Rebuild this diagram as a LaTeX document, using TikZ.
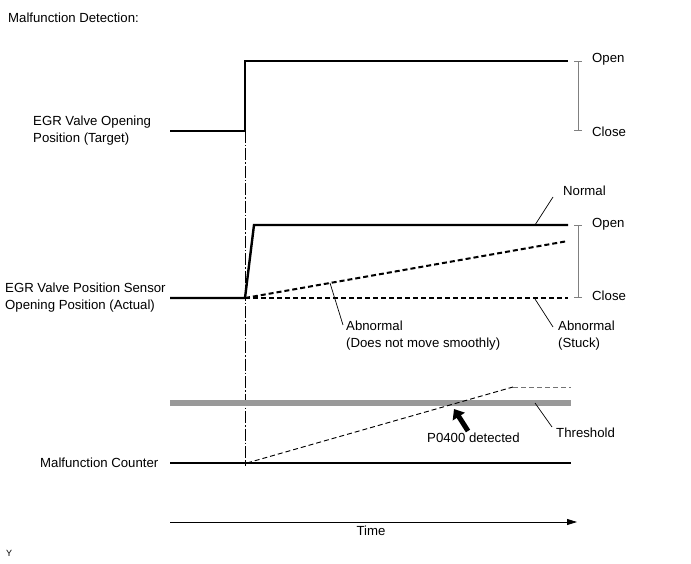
\documentclass[tikz,border=0pt]{standalone}
\usepackage{fontspec}
\setmainfont{Liberation Sans}
\usetikzlibrary{arrows.meta}
\begin{document}
\begin{tikzpicture}[x=1pt,y=-1pt,
  every node/.style={font=\fontsize{13.2}{17}\selectfont, inner sep=0pt},
  lbl/.style={anchor=west, align=left},
  sig/.style={line width=2.4pt, line join=miter},
  absig/.style={line width=2pt, dash pattern=on 5pt off 3pt},
  cnt/.style={line width=0.9pt, dash pattern=on 5pt off 3pt},
  brk/.style={draw=gray, line width=0.8pt, {Bar[width=8pt]}-{Bar[width=8pt]}},
  leader/.style={line width=0.7pt},
  dashdot/.style={line width=0.9pt, dash pattern=on 12pt off 2pt on 1.5pt off 2pt}]
\path[use as bounding box] (0,0) rectangle (691,564);

% title
\node[lbl] (title) at (8,18) {Malfunction Detection:};

% ---- Target panel
\node[lbl] (tlab) at (33,131) {EGR Valve Opening\\Position (Target)};
\coordinate (t0) at (170,131);
\coordinate (t1) at (245,131);
\coordinate (t2) at (245,61);
\coordinate (t3) at (568,61);
\draw[sig] (t0) -- (t1) -- (t2) -- (t3);
\coordinate (b1t) at (578,61);
\coordinate (b1b) at (578,131);
\draw[brk] (b1t) -- (b1b);
\node[lbl] (open1) at (592,59) {Open};
\node[lbl] (close1) at (592,132) {Close};

% start line
\coordinate (v0) at (245,61);
\coordinate (v1) at (245,466);
\draw[dashdot] (v0) -- (v1);

% ---- Actual panel
\node[lbl] (alab) at (5,298) {EGR Valve Position Sensor\\Opening Position (Actual)};
\coordinate (a0) at (170,298);
\coordinate (a1) at (245,298);
\coordinate (a2) at (254,225);
\coordinate (a3) at (568,225);
\coordinate (s1) at (568,241);
\coordinate (k1) at (568,298);
\draw[absig] (a1) -- (s1);
\draw[absig] (a1) -- (k1);
\draw[sig] (a0) -- (a1) -- (a2) -- (a3);
\coordinate (b2t) at (578,225);
\coordinate (b2b) at (578,298);
\draw[brk] (b2t) -- (b2b);
\node[lbl] (open2) at (592,224) {Open};
\node[lbl] (close2) at (592,296) {Close};

\node[lbl] (normal) at (563,191) {Normal};
\coordinate (nl) at (535,225);
\draw[leader] (nl) -- (553,197);

\node[lbl] (stuck) at (558,336) {Abnormal\\(Stuck)};
\coordinate (sl) at (535,299);
\draw[leader] (sl) -- (553,327);

\node[lbl] (smooth) at (346,336) {Abnormal\\(Does not move smoothly)};
\coordinate (ml) at (330,283);
\draw[leader] (ml) -- (343,325);

% ---- Counter panel
\coordinate (th0) at (170,403);
\coordinate (th1) at (571,403);
\draw[line width=6pt, draw=black!40] (th0) -- (th1);

\node[lbl] (mclab) at (40,463) {Malfunction Counter};
\coordinate (c0) at (170,463);
\coordinate (c1) at (571,463);
\draw[line width=2.2pt] (c0) -- (c1);
\coordinate (r0) at (247,463);
\coordinate (r1) at (513,387);
\coordinate (r2) at (571,387);
\draw[cnt] (r0) -- (r1);
\draw[cnt, draw=black!55] (r1) -- (r2);

\node[lbl] (thr) at (556,433) {Threshold};
\coordinate (tl) at (535,403);
\draw[leader] (tl) -- (552,427);

\node[lbl] (det) at (427,438) {P0400 detected};
\coordinate (ar0) at (468,431);
\coordinate (ar1) at (454,409);
\draw[line width=5pt, -{Triangle[length=9pt,width=14pt]}] (ar0) -- (ar1);

% ---- time axis
\coordinate (x0) at (170,522);
\coordinate (x1) at (577,522);
\draw[line width=0.8pt, -{Triangle[length=10pt,width=6pt]}] (x0) -- (x1);
\node (time) at (371,531) {Time};

\node[lbl, font=\fontsize{9}{10}\selectfont] (y) at (6,553) {Y};
\end{tikzpicture}
\end{document}
